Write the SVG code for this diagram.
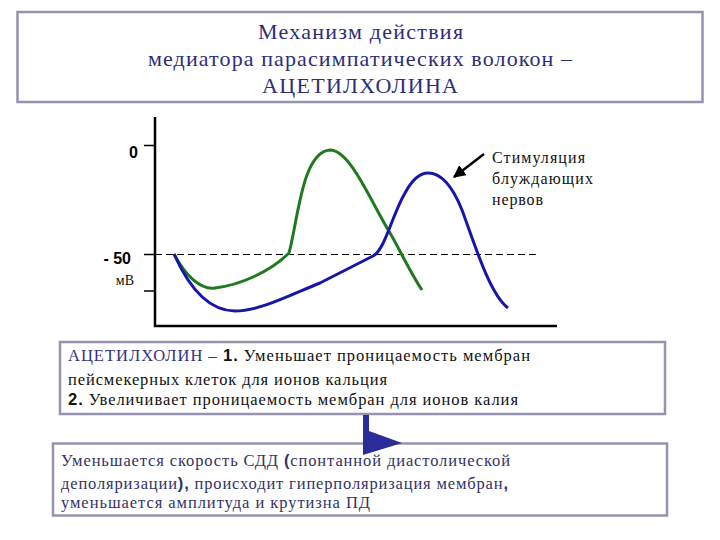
<svg xmlns="http://www.w3.org/2000/svg" width="720" height="540" viewBox="0 0 720 540">
<defs>
<style>
.box{fill:#ffffff;stroke:#9593b0;stroke-width:2.5}
</style>
<marker id="ah" viewBox="0 0 10 10" refX="9" refY="5" markerWidth="5" markerHeight="5" orient="auto">
<path d="M0,0 L10,5 L0,10 Z" fill="#000"/>
</marker>
</defs>
<rect width="720" height="540" fill="#fff"/>
<g id="title">
<rect class="box" x="17.5" y="12" width="685" height="90"/>
<text x="360.5" y="39" font-family="Liberation Serif, serif" font-size="22" fill="#2e2e78" text-anchor="middle" textLength="205">Механизм действия</text>
<text x="360" y="66" font-family="Liberation Serif, serif" font-size="22" fill="#2e2e78" text-anchor="middle" textLength="424">медиатора парасимпатических волокон –</text>
<text x="360" y="93" font-family="Liberation Serif, serif" font-size="22" fill="#2e2e78" text-anchor="middle" textLength="196">АЦЕТИЛХОЛИНА</text>
</g>
<g id="chart">
<path d="M155,117 V326 H557" fill="none" stroke="#000" stroke-width="2.5"/>
<path d="M144,145.5 H155 M144,254.5 H155 M144,291 H155" stroke="#000" stroke-width="1.5"/>
<line x1="155" y1="254.5" x2="536" y2="254.5" stroke="#000" stroke-width="1" stroke-dasharray="7,4"/>
<text x="138" y="158" font-family="Liberation Sans, sans-serif" font-weight="bold" font-size="16" text-anchor="end">0</text>
<text x="131" y="264" font-family="Liberation Sans, sans-serif" font-weight="bold" font-size="16" text-anchor="end">- 50</text>
<text x="134" y="285" font-family="Liberation Serif, serif" font-size="14" fill="#111" text-anchor="end">мВ</text>
<path d="M174,254 C185,275 200,290 215,288 C240,285 270,272 289,253 C298,220 302,152 330,150 C350,150 370,200 390,233 C400,250 410,272 422,290" fill="none" stroke="#1f7a1f" stroke-width="3"/>
<path d="M174,254 C190,290 210,311 235,311 C260,311 290,295 320,283 L373,256 C385,250 392,215 405,193 C412,180 420,173 428,173 C440,173 452,185 462,210 C475,245 490,295 508,308" fill="none" stroke="#1616a8" stroke-width="3"/>
</g>
<g id="stim-label">
<text x="492" y="163" font-family="Liberation Serif, serif" font-size="16" fill="#111" textLength="93">Стимуляция</text>
<text x="492" y="184" font-family="Liberation Serif, serif" font-size="16" fill="#111" textLength="101">блуждающих</text>
<text x="492" y="205" font-family="Liberation Serif, serif" font-size="16" fill="#111" textLength="51">нервов</text>
</g>
<g id="connectors">
<line x1="484" y1="154" x2="454" y2="177" stroke="#000" stroke-width="2.5" marker-end="url(#ah)"/>
</g>
<g id="box1">
<rect class="box" x="60" y="342" width="605" height="72"/>
<text x="68" y="361" font-family="Liberation Serif, serif" font-size="16.5" fill="#111" textLength="462"><tspan fill="#33337f">АЦЕТИЛХОЛИН – </tspan><tspan font-family="Liberation Sans, sans-serif" font-weight="bold">1.</tspan> Уменьшает проницаемость мембран</text>
<text x="68" y="385" font-family="Liberation Serif, serif" font-size="16.5" fill="#111" textLength="319">пейсмекерных клеток для ионов кальция</text>
<text x="68" y="405" font-family="Liberation Serif, serif" font-size="16.5" fill="#111" textLength="450"><tspan font-family="Liberation Sans, sans-serif" font-weight="bold">2.</tspan> Увеличивает проницаемость мембран для ионов калия</text>
</g>
<g id="box2">
<rect class="box" x="53" y="443.5" width="614" height="72"/>
<text x="61" y="466" font-family="Liberation Serif, serif" font-size="16.5" fill="#333366" textLength="449">Уменьшается скорость СДД <tspan font-family="Liberation Sans, sans-serif" font-weight="bold">(</tspan>спонтанной диастолической</text>
<text x="61" y="489" font-family="Liberation Serif, serif" font-size="16.5" fill="#333366" textLength="447">деполяризации<tspan font-family="Liberation Sans, sans-serif" font-weight="bold">),</tspan> происходит гиперполяризация мембран<tspan font-family="Liberation Sans, sans-serif" font-weight="bold">,</tspan></text>
<text x="61" y="508" font-family="Liberation Serif, serif" font-size="16.5" fill="#333366" textLength="309">уменьшается амплитуда и крутизна ПД</text>
</g>
<g id="big-arrow">
<polygon points="363,415 369,415 369,431 402,443 363,455" fill="#2b2b9a"/>
</g>
</svg>
